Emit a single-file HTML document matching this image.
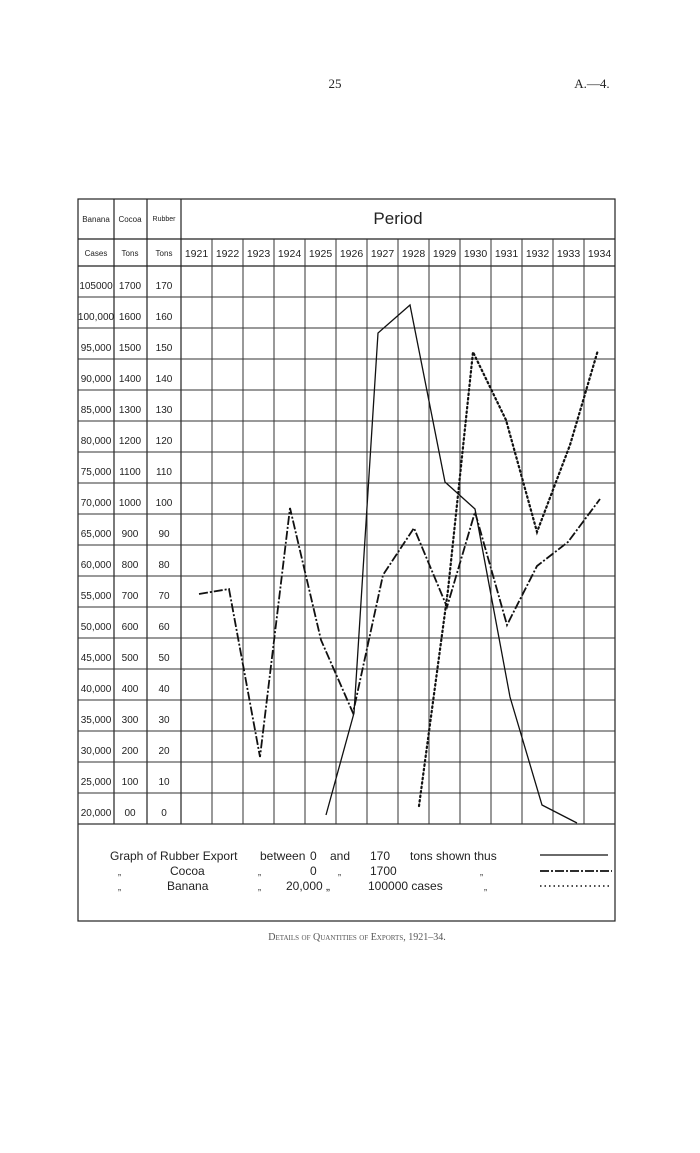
<!DOCTYPE html>
<html><head><meta charset="utf-8"><style>
html,body{margin:0;padding:0;background:#fff;}
svg{display:block;}
text{font-family:"Liberation Sans",sans-serif;fill:#222;}
</style></head><body>
<svg width="700" height="1153" viewBox="0 0 700 1153" xmlns="http://www.w3.org/2000/svg">
<text x="335" y="88" font-size="13" text-anchor="middle" style="font-family:'Liberation Serif',serif">25</text>
<text x="592" y="88" font-size="13" text-anchor="middle" style="font-family:'Liberation Serif',serif">A.—4.</text>
<g stroke="#222" stroke-width="1.2" fill="none">
<rect x="78" y="199" width="537" height="722"/>
<line x1="78" y1="239" x2="615" y2="239"/>
<line x1="78" y1="266" x2="615" y2="266"/>
<line x1="114" y1="199" x2="114" y2="824"/>
<line x1="147" y1="199" x2="147" y2="824"/>
<line x1="181" y1="199" x2="181" y2="824"/>
</g>
<g stroke="#333" stroke-width="1">
<line x1="212" y1="239" x2="212" y2="824"/><line x1="243" y1="239" x2="243" y2="824"/><line x1="274" y1="239" x2="274" y2="824"/><line x1="305" y1="239" x2="305" y2="824"/><line x1="336" y1="239" x2="336" y2="824"/><line x1="367" y1="239" x2="367" y2="824"/><line x1="398" y1="239" x2="398" y2="824"/><line x1="429" y1="239" x2="429" y2="824"/><line x1="460" y1="239" x2="460" y2="824"/><line x1="491" y1="239" x2="491" y2="824"/><line x1="522" y1="239" x2="522" y2="824"/><line x1="553" y1="239" x2="553" y2="824"/><line x1="584" y1="239" x2="584" y2="824"/>
<line x1="78" y1="297" x2="615" y2="297"/><line x1="78" y1="328" x2="615" y2="328"/><line x1="78" y1="359" x2="615" y2="359"/><line x1="78" y1="390" x2="615" y2="390"/><line x1="78" y1="421" x2="615" y2="421"/><line x1="78" y1="452" x2="615" y2="452"/><line x1="78" y1="483" x2="615" y2="483"/><line x1="78" y1="514" x2="615" y2="514"/><line x1="78" y1="545" x2="615" y2="545"/><line x1="78" y1="576" x2="615" y2="576"/><line x1="78" y1="607" x2="615" y2="607"/><line x1="78" y1="638" x2="615" y2="638"/><line x1="78" y1="669" x2="615" y2="669"/><line x1="78" y1="700" x2="615" y2="700"/><line x1="78" y1="731" x2="615" y2="731"/><line x1="78" y1="762" x2="615" y2="762"/><line x1="78" y1="793" x2="615" y2="793"/>
<line x1="78" y1="824" x2="615" y2="824" stroke-width="1.3"/>
</g>
<g font-size="8">
<text x="96" y="222" text-anchor="middle">Banana</text>
<text x="130" y="222" text-anchor="middle">Cocoa</text>
<text x="164" y="221" text-anchor="middle" font-size="7">Rubber</text>
<text x="96" y="256" text-anchor="middle">Cases</text>
<text x="130" y="256" text-anchor="middle">Tons</text>
<text x="164" y="256" text-anchor="middle">Tons</text>
</g>
<text x="398" y="224" font-size="17" text-anchor="middle">Period</text>
<g font-size="10.5" text-anchor="middle">
<text x="196.5" y="257">1921</text><text x="227.5" y="257">1922</text><text x="258.5" y="257">1923</text><text x="289.5" y="257">1924</text><text x="320.5" y="257">1925</text><text x="351.5" y="257">1926</text><text x="382.5" y="257">1927</text><text x="413.5" y="257">1928</text><text x="444.5" y="257">1929</text><text x="475.5" y="257">1930</text><text x="506.5" y="257">1931</text><text x="537.5" y="257">1932</text><text x="568.5" y="257">1933</text><text x="599.5" y="257">1934</text>
</g>
<g font-size="10" text-anchor="middle">
<text x="96" y="289">105000</text><text x="130" y="289">1700</text><text x="164" y="289">170</text>
<text x="96" y="320">100,000</text><text x="130" y="320">1600</text><text x="164" y="320">160</text>
<text x="96" y="351">95,000</text><text x="130" y="351">1500</text><text x="164" y="351">150</text>
<text x="96" y="382">90,000</text><text x="130" y="382">1400</text><text x="164" y="382">140</text>
<text x="96" y="413">85,000</text><text x="130" y="413">1300</text><text x="164" y="413">130</text>
<text x="96" y="444">80,000</text><text x="130" y="444">1200</text><text x="164" y="444">120</text>
<text x="96" y="475">75,000</text><text x="130" y="475">1100</text><text x="164" y="475">110</text>
<text x="96" y="506">70,000</text><text x="130" y="506">1000</text><text x="164" y="506">100</text>
<text x="96" y="537">65,000</text><text x="130" y="537">900</text><text x="164" y="537">90</text>
<text x="96" y="568">60,000</text><text x="130" y="568">800</text><text x="164" y="568">80</text>
<text x="96" y="599">55,000</text><text x="130" y="599">700</text><text x="164" y="599">70</text>
<text x="96" y="630">50,000</text><text x="130" y="630">600</text><text x="164" y="630">60</text>
<text x="96" y="661">45,000</text><text x="130" y="661">500</text><text x="164" y="661">50</text>
<text x="96" y="692">40,000</text><text x="130" y="692">400</text><text x="164" y="692">40</text>
<text x="96" y="723">35,000</text><text x="130" y="723">300</text><text x="164" y="723">30</text>
<text x="96" y="754">30,000</text><text x="130" y="754">200</text><text x="164" y="754">20</text>
<text x="96" y="785">25,000</text><text x="130" y="785">100</text><text x="164" y="785">10</text>
<text x="96" y="816">20,000</text><text x="130" y="816">00</text><text x="164" y="816">0</text>
</g>
<polyline fill="none" stroke="#111" stroke-width="1.3" points="326,815 354,713 378,333 410,305 445,482 475,509 510,697 542,805 577,823"/>
<polyline fill="none" stroke="#111" stroke-width="1.8" stroke-dasharray="9,2,2,2" points="199,594 229,589 260,757 290,508 321,640 353,713 383,575 414,528 447,607 475,512 507,625 537,566 568,542 600,499"/>
<polyline fill="none" stroke="#111" stroke-width="2.2" stroke-dasharray="1.5,3" stroke-linecap="round" points="419,806 448,590 473,352 506,420 537,532 570,445 598,350"/>
<g font-size="12">
<text x="110" y="860">Graph of Rubber Export</text>
<text x="260" y="860">between</text><text x="310" y="860">0</text><text x="330" y="860">and</text><text x="370" y="860">170</text><text x="410" y="860">tons shown thus</text>
<text x="118" y="875" font-size="9">„</text><text x="170" y="875">Cocoa</text><text x="258" y="875" font-size="9">„</text><text x="310" y="875">0</text><text x="338" y="875" font-size="9">„</text><text x="370" y="875">1700</text><text x="480" y="875" font-size="9">„</text>
<text x="118" y="890" font-size="9">„</text><text x="167" y="890">Banana</text><text x="258" y="890" font-size="9">„</text><text x="286" y="890">20,000 „</text><text x="368" y="890">100000 cases</text><text x="484" y="890" font-size="9">„</text>
</g>
<line x1="540" y1="855" x2="608" y2="855" stroke="#111" stroke-width="1.2"/>
<line x1="540" y1="871" x2="612" y2="871" stroke="#111" stroke-width="1.8" stroke-dasharray="9,2,2,2"/>
<line x1="540" y1="886" x2="612" y2="886" stroke="#111" stroke-width="1.6" stroke-dasharray="1.5,3"/>
<text x="357" y="940" font-size="10" text-anchor="middle" style="font-family:'Liberation Serif',serif;font-variant:small-caps;fill:#555">Details of Quantities of Exports, 1921–34.</text>
</svg>
</body></html>
